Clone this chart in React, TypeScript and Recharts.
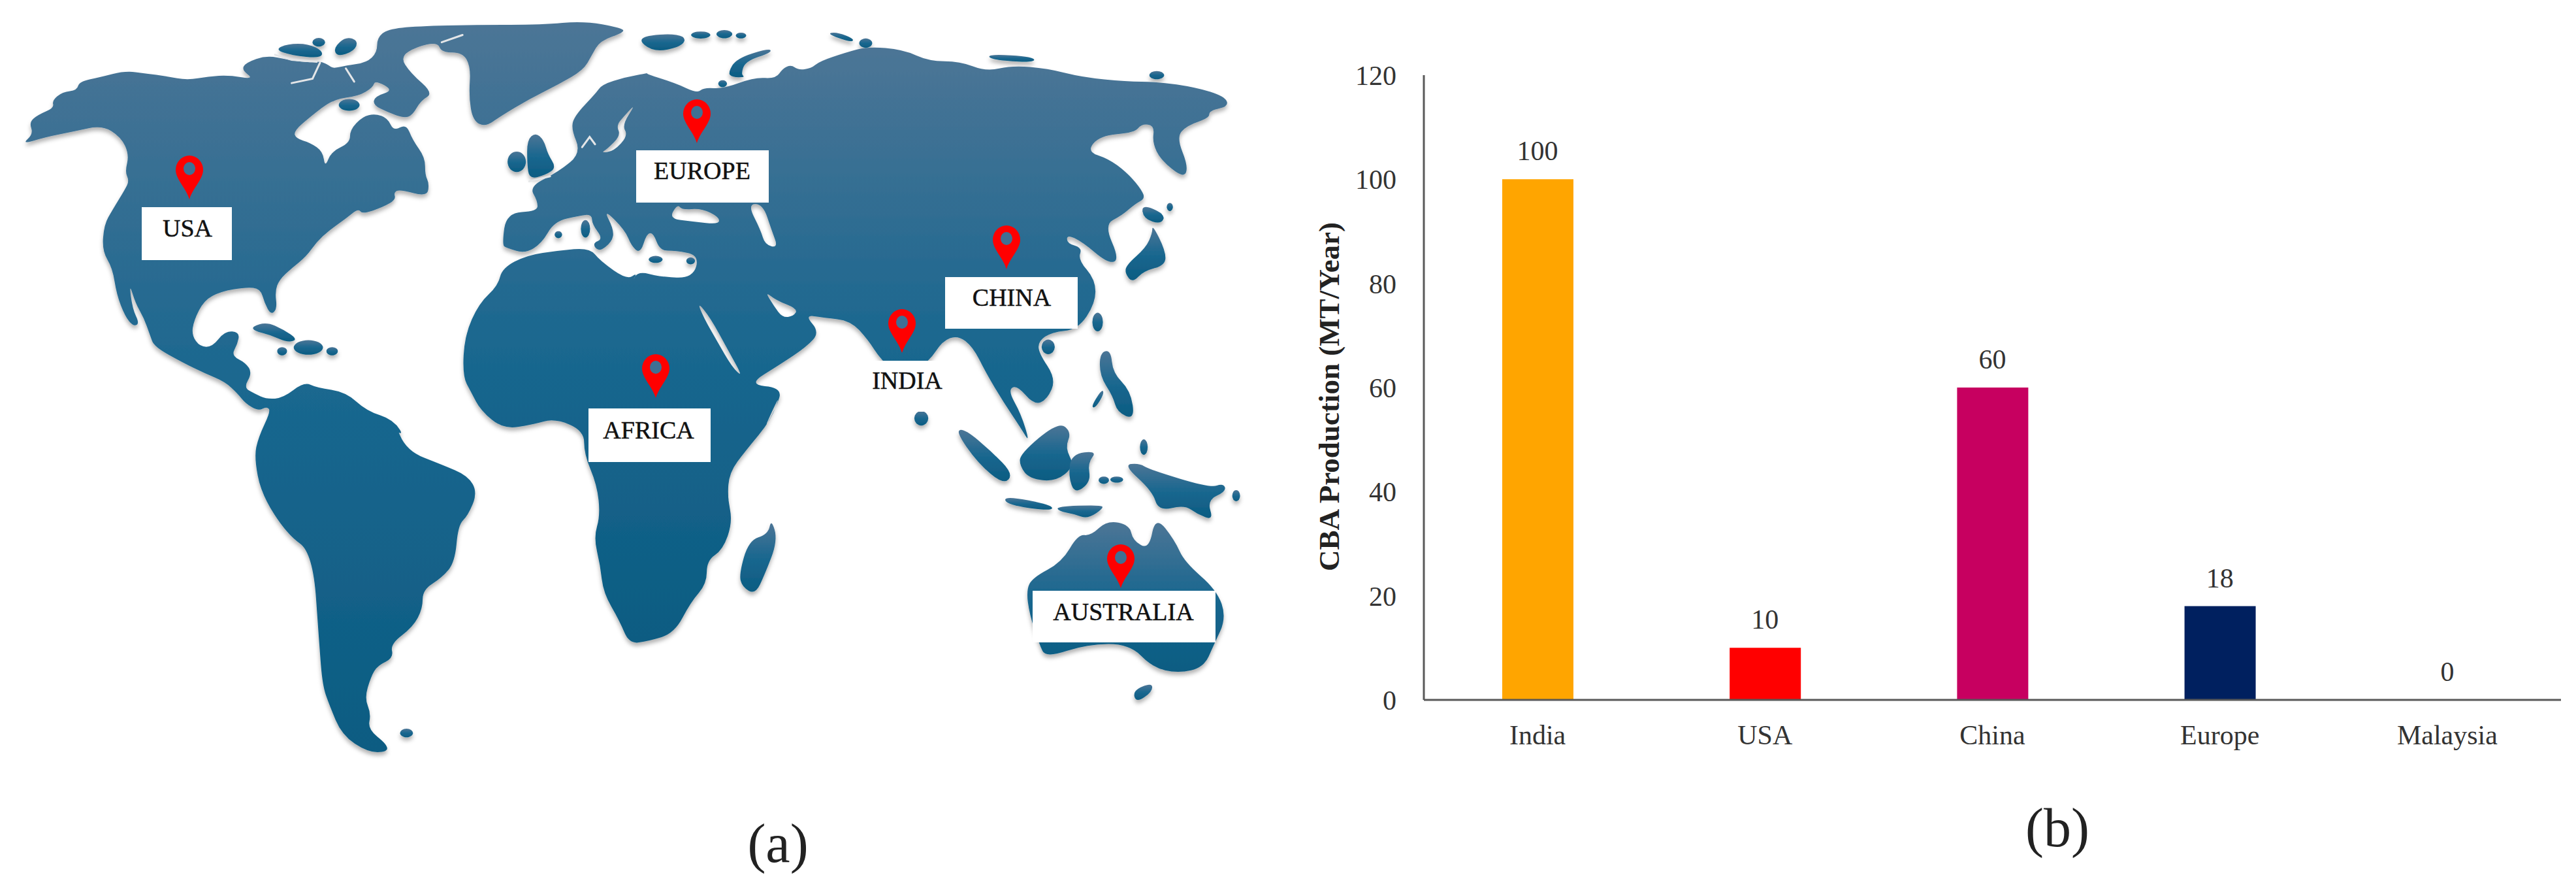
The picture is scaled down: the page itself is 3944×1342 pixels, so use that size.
import { ComposedChart, Bar, Line, Cell, XAxis, YAxis, LabelList } from "recharts";

type Pt = number[];

const regions = ["India", "USA", "China", "Europe", "Malaysia"];
const production = [100, 10, 60, 18, 0];
const barColors = ["#FFA500", "#FF0000", "#C70060", "#00205F", "#7F7F7F"];
const yTicks = [0, 20, 40, 60, 80, 100, 120];

const chartData = regions.map((region, i) => ({ region, production: production[i] }));

const FONT = "'Liberation Serif', 'Times New Roman', serif";

// the map crops were read at different scales, so outlines go through these
const z2 = (p: Pt[]) => p.map(([x, y]) => [x * 0.638, y * 0.446]);
const z3 = (p: Pt[]) => p.map(([x, y]) => [900 + x * 0.67, y * 0.446]);
const z4 = (p: Pt[]) => p.map(([x, y]) => [400 + x * 0.9885, 600 + y * 0.473]);

const smooth = (p: Pt[]) => {
  const mid = (a: Pt, b: Pt) => [(a[0] + b[0]) / 2, (a[1] + b[1]) / 2];
  const start = mid(p[p.length - 1], p[0]);
  let d = `M${start[0].toFixed(1)},${start[1].toFixed(1)}`;
  p.forEach((pt, i) => {
    const m = mid(pt, p[(i + 1) % p.length]);
    d += `Q${pt[0].toFixed(1)},${pt[1].toFixed(1)} ${m[0].toFixed(1)},${m[1].toFixed(1)}`;
  });
  return d + "Z";
};

const blob = (cx: number, cy: number, rx: number, ry: number): Pt[] =>
  [0, 1, 2, 3, 4, 5, 6, 7].map((k) => [
    cx + rx * 1.08 * Math.cos((k * Math.PI) / 4),
    cy + ry * 1.08 * Math.sin((k * Math.PI) / 4),
  ]);

const americas = [
  ...z2([
    [52, 495], [80, 460], [70, 420], [90, 395], [130, 370], [125, 345], [150, 315], [185, 310], [190, 280],
    [240, 265], [300, 243], [350, 252], [400, 262], [450, 275], [500, 262], [550, 258], [610, 272], [580, 240],
    [590, 215], [640, 190], [690, 205], [740, 215], [770, 210], [790, 225], [800, 235], [830, 225], [880, 215],
    [905, 180], [905, 130], [930, 100], [1000, 90], [1150, 85], [1300, 85], [1400, 72], [1490, 95], [1500, 110],
    [1440, 140], [1420, 190], [1400, 240], [1340, 290], [1270, 340], [1200, 400], [1165, 435], [1135, 415],
    [1125, 330], [1130, 230], [1110, 180], [1060, 180], [1050, 145], [1000, 160], [960, 195], [985, 250],
    [1040, 320], [1010, 345], [990, 395], [970, 405], [930, 385], [895, 360], [900, 330], [945, 310], [900, 275],
    [895, 300], [860, 330], [800, 340], [745, 400], [705, 450], [710, 475], [745, 490], [775, 520], [780, 575],
    [795, 520], [840, 490], [840, 445], [870, 400], [900, 390], [930, 405], [945, 450], [975, 425], [990, 480],
    [1020, 540], [1020, 600], [1030, 630], [1025, 675], [960, 650], [945, 660], [950, 685], [920, 710], [870, 735],
    [860, 715], [830, 750], [790, 790], [760, 830], [735, 880], [700, 920], [670, 960], [660, 1000], [665, 1060],
    [650, 1080], [635, 1040], [625, 990], [590, 985], [530, 1000], [490, 1030], [465, 1100], [460, 1150],
    [480, 1190], [510, 1190], [540, 1135], [575, 1140], [570, 1180], [555, 1220], [590, 1245], [605, 1280],
    [585, 1330], [610, 1350], [640, 1370], [680, 1365], [730, 1310], [760, 1330], [830, 1345], [880, 1410],
    [945, 1440], [975, 1510],
  ]),
  ...z4([
    [130, 10], [175, 75], [205, 90], [225, 190], [280, 235], [320, 270], [335, 325], [320, 400], [305, 430],
    [300, 550], [280, 600], [250, 640], [250, 700], [235, 760], [200, 815], [205, 860], [180, 885], [170, 920],
    [160, 990], [170, 1040], [165, 1090], [195, 1140], [195, 1165], [165, 1165], [125, 1110], [105, 1010],
    [95, 950], [90, 820], [80, 520], [40, 460], [0, 330],
  ]),
  ...z2([
    [610, 1568], [620, 1500], [650, 1410], [640, 1395], [620, 1410], [590, 1385], [570, 1350], [540, 1310],
    [490, 1280], [440, 1245], [370, 1190], [360, 1150], [345, 1090], [325, 1040], [310, 970], [318, 1060],
    [335, 1110], [320, 1120], [300, 1085], [280, 1010], [270, 920], [245, 860], [250, 770], [270, 720], [300, 650],
    [310, 620], [300, 590], [310, 530], [290, 470], [245, 430], [180, 450], [110, 470],
  ]),
];

const eurasiaAfrica = [
  ...z2([
    [1215, 730], [1290, 725], [1290, 690], [1270, 640], [1340, 590], [1395, 525], [1370, 440], [1380, 395],
    [1430, 320], [1445, 290], [1500, 265], [1560, 250],
  ]),
  ...z3([
    [130, 252], [200, 285], [250, 320], [265, 300], [310, 305], [380, 265], [430, 270], [445, 235], [465, 222],
    [480, 240], [510, 235], [530, 210], [590, 180], [640, 160], [720, 170], [780, 210], [850, 210], [910, 245],
    [970, 225], [1050, 235], [1130, 265], [1230, 280], [1300, 280], [1390, 300], [1455, 330], [1465, 365],
    [1420, 380], [1420, 405], [1370, 430], [1345, 470], [1372, 570], [1362, 612], [1310, 550], [1290, 490],
    [1295, 430], [1265, 425], [1250, 455], [1170, 465], [1140, 520], [1190, 545], [1230, 590], [1260, 640],
    [1275, 680], [1250, 700], [1220, 740], [1180, 770], [1215, 890], [1190, 905], [1130, 830], [1095, 805],
    [1095, 835], [1130, 850], [1120, 890], [1160, 960], [1160, 1040], [1120, 1130], [1060, 1140], [1030, 1170],
    [1030, 1210], [1070, 1300], [1050, 1370], [1020, 1390], [980, 1320], [960, 1340], [990, 1420], [1010, 1520],
    [990, 1470], [950, 1380], [910, 1280], [880, 1190], [845, 1150], [810, 1170], [780, 1240], [720, 1300],
    [670, 1235], [640, 1165], [600, 1100], [540, 1090], [495, 1080], [530, 1140], [500, 1190], [440, 1250],
    [365, 1320], [445, 1330], [430, 1400], [400, 1480],
  ]),
  ...z4([
    [805, 0], [790, 90], [750, 190], [725, 260], [722, 340], [730, 420], [715, 510], [690, 545], [690, 620],
    [665, 680], [640, 780], [600, 805], [570, 815], [555, 740], [530, 650], [525, 560], [515, 470], [525, 400],
    [520, 300], [500, 200], [500, 125], [455, 85], [420, 105], [375, 120], [340, 60], [325, 0],
  ]),
  ...z2([
    [1110, 1290], [1115, 1150], [1150, 1040], [1195, 980], [1205, 920], [1265, 875], [1340, 860], [1415, 850],
    [1440, 895], [1505, 960], [1530, 935],
  ]),
  ...z3([
    [100, 970], [115, 930], [165, 950], [240, 955], [255, 875], [200, 860], [165, 860], [150, 800], [135, 800],
    [120, 870], [100, 845], [85, 790], [35, 715], [60, 790], [55, 830], [25, 865], [10, 835], [35, 820], [10, 770],
  ]),
  ...z2([[1420, 735], [1390, 740], [1330, 760], [1300, 835], [1260, 870], [1215, 850], [1205, 840]]),
];

const inlandSeas = [
  z3([[30, 525], [60, 518], [92, 465], [78, 430], [110, 355], [85, 395], [65, 430], [75, 465], [45, 510]]),
  z3([[205, 700], [185, 750], [240, 760], [300, 770], [300, 745], [260, 715], [215, 720]]),
  z3([[365, 700], [400, 700], [420, 790], [435, 850], [405, 840], [395, 790]]),
  z3([[250, 1035], [280, 1090], [320, 1200], [355, 1295], [330, 1260], [295, 1170], [265, 1090]]),
  z3([[405, 1000], [430, 1030], [480, 1060], [470, 1085], [445, 1090], [425, 1050]]),
];

const islands = [
  // caribbean and arctic canada
  z2([[605, 1120], [640, 1105], [680, 1130], [715, 1165], [690, 1175], [650, 1150], [610, 1135]]),
  z2(blob(740, 1192, 35, 25)),
  z2(blob(677, 1205, 12, 14)),
  z2(blob(797, 1205, 14, 14)),
  z2(blob(838, 360, 25, 20)),
  z2([[660, 170], [690, 150], [740, 150], [775, 175], [770, 200], [700, 190]]),
  z2(blob(765, 145, 15, 15)),
  z2([[800, 165], [830, 125], [860, 140], [850, 175], [810, 195]]),
  // british isles
  z2([[1265, 480], [1285, 455], [1305, 480], [1315, 530], [1335, 575], [1310, 600], [1270, 615], [1265, 560]]),
  z2(blob(1240, 555, 22, 35)),
  // mediterranean
  z2(blob(1340, 805, 9, 12)),
  z2(blob(1405, 785, 11, 30)),
  z3(blob(155, 890, 16, 12)),
  z3(blob(235, 895, 10, 12)),
  // russian arctic
  z3([[110, 130], [180, 115], [225, 125], [215, 160], [150, 180]]),
  z3(blob(258, 120, 22, 12)),
  z3(blob(312, 117, 18, 14)),
  z3(blob(350, 122, 12, 10)),
  z3([[320, 250], [340, 200], [415, 165], [420, 180], [360, 210], [350, 255], [360, 265], [330, 265]]),
  z3(blob(308, 287, 10, 12)),
  z3([[545, 115], [570, 110], [610, 135], [600, 145]]),
  z3(blob(635, 148, 15, 16)),
  z3([[915, 185], [1020, 195], [1020, 215], [920, 205]]),
  z3(blob(1300, 258, 17, 14)),
  // east asia
  z3([[1265, 700], [1320, 735], [1310, 770], [1270, 750]]),
  z3([[1230, 910], [1275, 850], [1290, 800], [1290, 770], [1320, 860], [1320, 910], [1270, 930], [1245, 970], [1228, 940]]),
  z3(blob(1330, 710, 7, 14)),
  z3(blob(1165, 1105, 12, 32)),
  z3(blob(1052, 1190, 15, 25)),
  z3([[1170, 1210], [1195, 1200], [1200, 1280], [1240, 1340], [1250, 1440], [1210, 1415], [1200, 1360], [1170, 1290]]),
  z3([[1150, 1395], [1175, 1335], [1180, 1350], [1160, 1400]]),
  z3(blob(762, 1435, 16, 25)),
  // indonesia and around
  z4([[1075, 125], [1090, 120], [1130, 190], [1165, 265], [1150, 300], [1110, 230]]),
  z4([[1150, 335], [1225, 365], [1225, 385], [1155, 365]]),
  z4([[1232, 370], [1300, 365], [1305, 375], [1280, 410], [1260, 395], [1235, 385]]),
  z4([[1175, 200], [1235, 95], [1255, 130], [1245, 180], [1260, 240], [1230, 290], [1190, 280], [1175, 240]]),
  z4([[1255, 200], [1295, 190], [1280, 230], [1285, 290], [1260, 330], [1250, 270]]),
  z4([[1335, 235], [1360, 230], [1375, 250], [1470, 310], [1490, 295], [1495, 320], [1465, 350], [1475, 415], [1450, 395], [1430, 365], [1390, 385], [1380, 320]]),
  z4(blob(1305, 285, 8, 12)),
  z4(blob(1325, 283, 10, 10)),
  z4(blob(1510, 335, 6, 18)),
  z4(blob(1367, 178, 6, 25)),
  // australia, tasmania, madagascar, falklands
  z4([[1185, 640], [1195, 600], [1240, 550], [1265, 460], [1285, 465], [1310, 415], [1345, 430], [1350, 480], [1375, 510], [1385, 400], [1415, 480], [1430, 550], [1480, 640], [1495, 730], [1475, 820], [1460, 890], [1420, 910], [1380, 890], [1345, 815], [1280, 815], [1215, 860], [1205, 815], [1190, 720]]),
  z4([[1350, 965], [1380, 940], [1380, 970], [1355, 1005]]),
  z4([[790, 410], [800, 480], [780, 590], [765, 655], [745, 630], [740, 590], [755, 480], [785, 460]]),
  z4(blob(225, 1103, 10, 14)),
];

// thin channels between the arctic islands and around the north sea
const slits = [
  z2([[660, 188], [700, 205], [760, 212]]),
  z2([[768, 215], [750, 270], [700, 285]]),
  z2([[830, 235], [850, 280]]),
  z2([[1060, 145], [1110, 120]]),
  z2([[1397, 505], [1415, 470], [1428, 495]]),
  z2([[1270, 622], [1320, 605]]),
];

const places = [
  { name: "USA", tip: [290, 305], box: [217, 317, 138, 81], text: [287, 349] },
  { name: "EUROPE", tip: [1067, 219], box: [974, 230, 203, 80], text: [1075, 261] },
  { name: "CHINA", tip: [1541, 412], box: [1447, 424, 203, 79], text: [1549, 455] },
  { name: "INDIA", tip: [1381, 540], box: [1290, 552, 200, 78], text: [1389, 582] },
  { name: "AFRICA", tip: [1004, 609], box: [901, 625, 187, 82], text: [993, 658] },
  { name: "AUSTRALIA", tip: [1716, 900], box: [1581, 904, 280, 79], text: [1720, 936] },
];

function WorldMap() {
  return (
    <svg width={3944} height={1342} style={{ position: "absolute", left: 0, top: 0 }}>
      <defs>
        <linearGradient id="land" x1="0" y1="0" x2="0" y2="1">
          <stop offset="0" stopColor="#4c7596" />
          <stop offset="0.5" stopColor="#1a678f" />
          <stop offset="1" stopColor="#0c5c82" />
        </linearGradient>
        <filter id="drop" x="-5%" y="-5%" width="110%" height="110%">
          <feDropShadow dx="0" dy="5" stdDeviation="3" floodColor="#000" floodOpacity="0.3" />
        </filter>
      </defs>
      <g filter="url(#drop)">
        <path d={smooth(americas)} fill="url(#land)" />
        <path
          d={smooth(eurasiaAfrica) + inlandSeas.map(smooth).join("")}
          fill="url(#land)"
          fillRule="evenodd"
        />
        {islands.map((p, i) => (
          <path key={i} d={smooth(p)} fill="url(#land)" />
        ))}
      </g>
      {slits.map((p, i) => (
        <polyline
          key={i}
          points={p.map((q) => q.join(",")).join(" ")}
          fill="none"
          stroke="#e4e6e8"
          strokeWidth={3}
          strokeLinecap="round"
        />
      ))}
      {places.map((p) => (
        <g key={p.name}>
          <rect x={p.box[0]} y={p.box[1]} width={p.box[2]} height={p.box[3]} fill="#fff" />
          <text
            x={p.text[0]}
            y={p.text[1]}
            textAnchor="middle"
            dominantBaseline="central"
            fontFamily={FONT}
            fontSize={38}
            fill="#111"
            stroke="#111"
            strokeWidth={0.5}
          >
            {p.name}
          </text>
          <g transform={`translate(${p.tip[0]},${p.tip[1]})`}>
            <path d="M0,0C-5,-17 -21,-31 -21,-45A21,22 0 1 1 21,-45C21,-31 5,-17 0,0Z" fill="#FF0000" />
            <ellipse cx={0} cy={-47} rx={9} ry={10} fill="#3f7094" />
          </g>
        </g>
      ))}
      <text x={1191} y={1290} textAnchor="middle" dominantBaseline="central" fontFamily={FONT} fontSize={84} fill="#222">
        (a)
      </text>
      <text x={3150} y={1266} textAnchor="middle" dominantBaseline="central" fontFamily={FONT} fontSize={84} fill="#222">
        (b)
      </text>
    </svg>
  );
}

export default function App() {
  const tickStyle = { fontFamily: FONT, fontSize: 42, fill: "#333" };
  return (
    <div style={{ position: "absolute", left: 0, top: 0, width: 3944, height: 1342, background: "#fff" }}>
      <WorldMap />
      <div style={{ position: "absolute", left: 1960, top: 60 }}>
        <ComposedChart
          width={1984}
          height={1282}
          data={chartData}
          margin={{ top: 55, right: 23, bottom: 211, left: 20 }}
        >
          <XAxis
            dataKey="region"
            height={60}
            tickLine={false}
            tickMargin={32}
            axisLine={{ stroke: "#595959", strokeWidth: 3 }}
            tick={tickStyle}
            interval={0}
          />
          <YAxis
            width={200}
            domain={[0, 120]}
            ticks={yTicks}
            tickLine={false}
            tickMargin={36}
            axisLine={{ stroke: "#595959", strokeWidth: 3 }}
            tick={tickStyle}
            label={{
              value: "CBA Production (MT/Year)",
              angle: -90,
              position: "insideLeft",
              offset: 54,
              dy: 14,
              textAnchor: "middle",
              style: { fontFamily: FONT, fontSize: 45, fontWeight: "bold", fill: "#222", textAnchor: "middle" },
            }}
          />
          <Bar dataKey="production" barSize={109} isAnimationActive={false}>
            {chartData.map((d, i) => (
              <Cell key={d.region} fill={barColors[i]} />
            ))}
          </Bar>
          {/* invisible line carries the value labels, a zero height bar drops its own */}
          <Line dataKey="production" stroke="none" dot={false} activeDot={false} isAnimationActive={false}>
            <LabelList dataKey="production" position="top" offset={29} style={tickStyle} />
          </Line>
        </ComposedChart>
      </div>
    </div>
  );
}
